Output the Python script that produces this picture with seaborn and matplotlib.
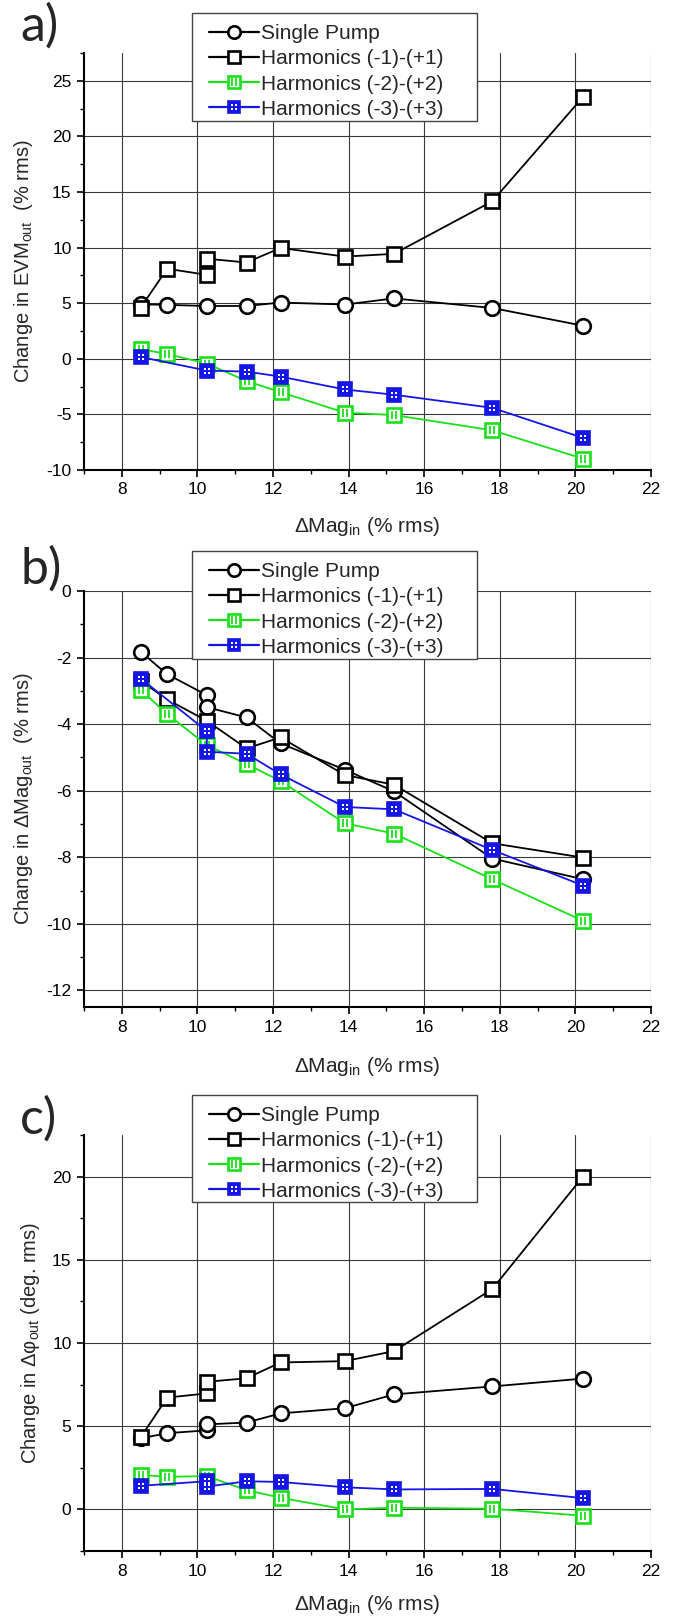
import numpy as np
import matplotlib
matplotlib.use("Agg")
import matplotlib.pyplot as plt
import seaborn as sns
from matplotlib.path import Path
from matplotlib.legend_handler import HandlerTuple
from matplotlib.lines import Line2D
from matplotlib.patches import Rectangle
from matplotlib.ticker import MultipleLocator

# ---- data ------------------------------------------------------------------
# panel a: change in EVM_out (% rms)
a_single_x = [8.5, 9.2, 10.25, 11.3, 12.2, 13.9, 15.2, 17.8, 20.2]
a_single_y = [4.9, 4.85, 4.75, 4.75, 5.06, 4.88, 5.43, 4.57, 2.98]
a_h1_x = [8.5, 9.2, 10.25, 10.25, 11.3, 12.2, 13.9, 15.2, 17.8, 20.2]
a_h1_y = [4.6, 8.1, 7.55, 9.0, 8.66, 9.97, 9.19, 9.44, 14.16, 23.54]
a_h2_x = [8.5, 9.2, 10.25, 11.3, 12.2, 13.9, 15.2, 17.8, 20.2]
a_h2_y = [0.87, 0.43, -0.43, -2.0, -3.0, -4.84, -5.06, -6.43, -8.98]
a_h3_x = [8.5, 10.25, 11.3, 12.2, 13.9, 15.2, 17.8, 20.2]
a_h3_y = [0.16, -1.06, -1.15, -1.6, -2.76, -3.23, -4.41, -7.11]

# panel b: change in dMag_out (% rms)
b_single_x = [8.5, 9.2, 10.25, 10.25, 11.3, 12.2, 13.9, 15.2, 17.8, 20.2]
b_single_y = [-1.83, -2.5, -3.13, -3.49, -3.8, -4.58, -5.37, -6.02, -8.04, -8.66]
b_h1_x = [8.5, 9.2, 10.25, 11.3, 12.2, 13.9, 15.2, 17.8, 20.2]
b_h1_y = [-2.7, -3.26, -3.9, -4.73, -4.4, -5.53, -5.82, -7.58, -8.01]
b_h2_x = [8.5, 9.2, 10.25, 11.3, 12.2, 13.9, 15.2, 17.8, 20.2]
b_h2_y = [-2.97, -3.7, -4.63, -5.2, -5.71, -6.98, -7.29, -8.66, -9.91]
b_h3_x = [8.5, 10.25, 10.25, 11.3, 12.2, 13.9, 15.2, 17.8, 20.2]
b_h3_y = [-2.63, -4.21, -4.83, -4.89, -5.51, -6.49, -6.56, -7.78, -8.85]

# panel c: change in dphi_out (deg. rms)
c_single_x = [8.5, 9.2, 10.25, 10.25, 11.3, 12.2, 13.9, 15.2, 17.8, 20.2]
c_single_y = [4.27, 4.58, 4.75, 5.11, 5.22, 5.77, 6.08, 6.91, 7.39, 7.86]
c_h1_x = [8.5, 9.2, 10.25, 10.25, 11.3, 12.2, 13.9, 15.2, 17.8, 20.2]
c_h1_y = [4.33, 6.72, 6.97, 7.67, 7.88, 8.83, 8.91, 9.51, 13.24, 20.0]
c_h2_x = [8.5, 9.2, 10.25, 11.3, 12.2, 13.9, 15.2, 17.8, 20.2]
c_h2_y = [2.07, 1.96, 2.0, 1.16, 0.7, 0.0, 0.1, 0.04, -0.38]
c_h3_x = [8.5, 10.25, 10.25, 11.3, 12.2, 13.9, 15.2, 17.8, 20.2]
c_h3_y = [1.42, 1.69, 1.37, 1.69, 1.65, 1.33, 1.2, 1.23, 0.68]

series_labels = ["Single Pump", "Harmonics (-1)-(+1)",
                 "Harmonics (-2)-(+2)", "Harmonics (-3)-(+3)"]
panel_letters = ["a)", "b)", "c)"]
y_labels = ["Change in EVM$_{\\mathregular{out}}$  (% rms)",
            "Change in ΔMag$_{\\mathregular{out}}$  (% rms)",
            "Change in Δφ$_{\\mathregular{out}}$ (deg. rms)"]
x_label = "ΔMag$_{\\mathregular{in}}$ (% rms)"
y_limits = [(-10, 27.5), (-12.5, 0), (-2.5, 22.5)]
y_major = [5, 2, 5]
y_minor = [2.5, 1, 2.5]

panels = [
    [(a_single_x, a_single_y), (a_h1_x, a_h1_y), (a_h2_x, a_h2_y), (a_h3_x, a_h3_y)],
    [(b_single_x, b_single_y), (b_h1_x, b_h1_y), (b_h2_x, b_h2_y), (b_h3_x, b_h3_y)],
    [(c_single_x, c_single_y), (c_h1_x, c_h1_y), (c_h2_x, c_h2_y), (c_h3_x, c_h3_y)],
]

# ---- styling ----------------------------------------------------------------
sns.set_style("ticks")
plt.rcParams["font.family"] = ["Liberation Sans", "DejaVu Sans"]
plt.rcParams["mathtext.fontset"] = "custom"
plt.rcParams["mathtext.rm"] = "Liberation Sans"
plt.rcParams["mathtext.it"] = "Liberation Sans:italic"
plt.rcParams["axes.unicode_minus"] = False

GREEN = "#19e019"
BLUE = "#1515e6"

# inner detail markers: two bars for the green squares, four dots for the blue
_M, _L = Path.MOVETO, Path.LINETO
bars_path = Path(
    [(-1, -1), (1, 1), (-0.3, -0.6), (-0.3, 0.6), (0.3, -0.6), (0.3, 0.6)],
    [_M, _M, _M, _L, _M, _L],
)
dots_verts, dots_codes = [(-1, -1), (1, 1)], [_M, _M]
for cx in (-0.3, 0.3):
    for cy in (-0.3, 0.3):
        s = 0.17
        dots_verts += [(cx - s, cy - s), (cx + s, cy - s), (cx + s, cy + s),
                       (cx - s, cy + s), (cx - s, cy - s)]
        dots_codes += [_M, _L, _L, _L, Path.CLOSEPOLY]
dots_path = Path(dots_verts, dots_codes)

base_styles = [
    dict(color="k", marker="o", mfc="white", mec="k", ms=10.5, mew=1.9),
    dict(color="k", marker="s", mfc="white", mec="k", ms=10, mew=1.9),
    dict(color=GREEN, marker="s", mfc="white", mec=GREEN, ms=10, mew=1.9),
    dict(color=BLUE, marker="s", mfc=BLUE, mec=BLUE, ms=10, mew=1.2),
]
detail_styles = [
    None,
    None,
    dict(marker=bars_path, mfc="none", mec=GREEN, ms=10, mew=1.3),
    dict(marker=dots_path, mfc="white", mec="none", ms=10, mew=0),
]

fig = plt.figure(figsize=(6.78, 16.21), dpi=100)
W, H = 678, 1621
ax_left, ax_right = 84, 651
panel_tops = [53, 591, 1135]
panel_bottoms = [470, 1007, 1551]
legend_boxes = [(13, 121), (551, 659), (1095, 1202)]
letter_baselines = [41, 584, 1134]
xlabel_centers = [527, 1067, 1605]
ylabel_x = [24, 24, 31]

for i in range(3):
    top, bot = panel_tops[i], panel_bottoms[i]
    ax = fig.add_axes([ax_left / W, 1 - bot / H, (ax_right - ax_left) / W, (bot - top) / H])
    handles = []
    for j, (xs, ys) in enumerate(panels[i]):
        st = base_styles[j]
        sns.lineplot(x=xs, y=ys, ax=ax, sort=False, estimator=None,
                     color=st["color"], lw=1.3, marker=st["marker"],
                     mfc=st["mfc"], mec=st["mec"], ms=st["ms"], mew=st["mew"],
                     zorder=3 + j)
        h = [Line2D([], [], color=st["color"], lw=1.6, marker=st["marker"],
                    mfc=st["mfc"], mec=st["mec"], ms=st["ms"] * 0.85, mew=st["mew"])]
        ds = detail_styles[j]
        if ds is not None:
            ax.plot(xs, ys, ls="none", zorder=3.5 + j, **ds)
            h.append(Line2D([], [], ls="none", marker=ds["marker"], mfc=ds["mfc"],
                            mec=ds["mec"], ms=ds["ms"] * 0.85, mew=ds["mew"]))
        handles.append(tuple(h))

    ax.set_xlim(7, 22)
    ax.set_ylim(*y_limits[i])
    ax.xaxis.set_major_locator(MultipleLocator(2))
    ax.xaxis.set_minor_locator(MultipleLocator(1))
    ax.yaxis.set_major_locator(MultipleLocator(y_major[i]))
    ax.yaxis.set_minor_locator(MultipleLocator(y_minor[i]))
    ax.grid(True, which="major", color="#3a3a3a", lw=0.8)
    ax.set_axisbelow(True)
    sns.despine(ax=ax)
    for sp in ("left", "bottom"):
        ax.spines[sp].set_linewidth(1.5)
        ax.spines[sp].set_color("k")
    ax.tick_params(which="major", direction="out", length=5, width=1.2, labelsize=12.5,
                   colors="k", pad=4)
    ax.tick_params(which="minor", direction="out", length=3, width=1.0, colors="k")
    ax.set_xlabel(x_label, fontsize=15, va="center")
    ax.set_ylabel(y_labels[i], fontsize=14.5, va="center")
    ax.xaxis.set_label_coords(0.5, (bot - xlabel_centers[i]) / (bot - top))
    ax.yaxis.set_label_coords((ylabel_x[i] - ax_left) / (ax_right - ax_left), 0.5)

    # legend frame drawn in figure pixels, entries placed inside it
    lt, lb = legend_boxes[i]
    frame = Rectangle((192 / W, 1 - lb / H), (477 - 192) / W, (lb - lt) / H,
                      transform=fig.transFigure, facecolor="white",
                      edgecolor="#444444", lw=1.0, zorder=9, clip_on=False)
    ax.add_artist(frame)
    leg = ax.legend(handles, series_labels, loc="upper left",
                    bbox_to_anchor=(209 / W, 1 - (lt + 11) / H),
                    bbox_transform=fig.transFigure,
                    handler_map={tuple: HandlerTuple(ndivide=1, pad=0)},
                    fontsize=15, frameon=False, borderpad=0, labelspacing=0.3,
                    handlelength=2.4, handletextpad=0.1, borderaxespad=0)
    leg.set_zorder(10)

    fig.text(20 / W, 1 - letter_baselines[i] / H, panel_letters[i], fontsize=36,
             va="baseline", ha="left", family=["Lato", "DejaVu Sans"])

fig.savefig("out.png", dpi=100)
